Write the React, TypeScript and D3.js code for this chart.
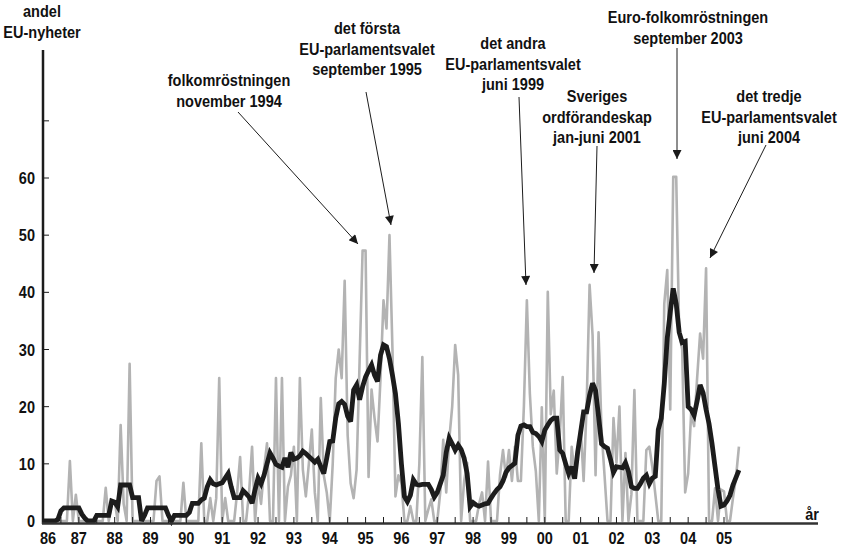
import React from "react";
import * as d3 from "d3";

// Monthly values, Jan 1986 (index 0) .. Jun 2005
const greyValues: number[] = [
  // 1986
  0, 0, 0, 0, 0, 0, 0, 0, 0, 10.5, 0, 4.6,
  // 1987
  0, 0, 0, 0, 0, 0, 0, 0, 0, 5.8, 0, 3,
  // 1988
  3.5, 0, 16.8, 3, 0, 27.5, 0, 0, 0, 0, 0, 0,
  // 1989
  0, 0, 7, 7.8, 0, 0, 0, 0, 0, 0, 0, 6.7,
  // 1990
  0, 0, 0, 0, 0, 13.6, 0, 0, 4, 0, 4, 25,
  // 1991
  0, 4, 0, 0, 0, 5, 11.2, 0, 0, 5, 13, 0,
  // 1992
  7, 3, 9, 13.6, 0, 0, 25, 0, 25, 0, 6, 8,
  // 1993
  13, 0, 25, 9, 4.3, 10, 16, 5, 0, 21.5, 8, 5,
  // 1994
  0, 10, 25, 30, 25, 42, 15, 6.6, 4, 9, 28, 47.3,
  // 1995
  47.3, 7.7, 23, 18, 13.9, 25, 38.6, 33.7, 50, 30, 4.3, 8,
  // 1996
  6.6, 0, 0, 2.6, 0, 0, 10, 28.7, 0, 2, 3.8, 0,
  // 1997
  0, 5, 14.2, 5, 14.2, 20, 30.8, 25.5, 0, 7, 10.2, 0,
  // 1998
  0, 0, 3, 5, 0, 10.4, 0, 0, 0, 8, 12.4, 7.7,
  // 1999
  12.4, 7, 13, 7, 7, 20, 38.6, 22.3, 13, 8.7, 0, 19.9,
  // 2000
  0, 40.1, 18.7, 22.8, 8.3, 14.8, 25.2, 0, 0, 13, 8.3, 12,
  // 2001
  16.5, 7, 20, 41.3, 32.5, 8, 33, 15.8, 8, 0, 0, 18,
  // 2002
  10.2, 20, 0, 11.9, 0, 4.7, 22.9, 0, 0, 0, 12.4, 13,
  // 2003
  9.5, 4.7, 0, 0, 38, 43.9, 19.5, 60.2, 60.2, 32.8, 30, 5,
  // 2004
  8.3, 18.9, 16.6, 25, 32.8, 28.4, 44.2, 0, 0, 5.7, 0, 5.5,
  // 2005
  5.2, 0, 0, 4, 7.6, 13,
];

const blackValues: number[] = [
  // 1986
  0, 0, 0, 0, 0, 0.3, 1.8, 2.3, 2.3, 2.3, 2.3, 2.3,
  // 1987
  2.3, 1.2, 0.5, 0, 0, 0, 1, 1, 1, 1, 1, 3.5,
  // 1988
  3.3, 2.5, 6.3, 6.3, 6.3, 6.3, 4.1, 4.1, 4.1, 0, 1, 2.3,
  // 1989
  2.3, 2.3, 2.3, 2.3, 2.3, 2.3, 1, 0, 1, 1, 1, 1,
  // 1990
  1, 1.5, 3.1, 3.1, 3.1, 3.7, 4, 6, 7.2, 6.5, 6.3, 6.5,
  // 1991
  6.7, 7.5, 8.3, 6, 4.1, 4.1, 4.1, 5.3, 4.8, 4.2, 3.1, 5.5,
  // 1992
  7.5, 6.5, 8, 10, 11.9, 11, 9.9, 9.6, 9.4, 11, 9.4, 12,
  // 1993
  10.8, 11, 11.4, 12.2, 11.8, 11.3, 10.8, 10.3, 10.8, 9.5, 8.3, 11,
  // 1994
  13.9, 14, 18, 20.5, 20.9, 20.4, 18.3, 17.4, 22.9, 23.8, 21.2, 23.5,
  // 1995
  25.2, 26.3, 27.3, 25.5, 24.4, 29, 30.8, 30.5, 28.4, 25.5, 22.3, 17,
  // 1996
  10, 4.3, 3.4, 4.5, 7.2, 6.4, 6.3, 6.4, 6.4, 6.4, 5.5, 4.2,
  // 1997
  5, 6.5, 8, 12, 14.5, 13.5, 12.4, 13.3, 12.5, 11, 8.3, 2.5,
  // 1998
  3.2, 2.8, 2.6, 2.8, 3, 3.1, 4, 4.8, 5.5, 6, 7, 8.5,
  // 1999
  9.3, 9.7, 10.1, 15, 16.6, 16.8, 16.5, 16.5, 15.5, 15.3, 14.8, 13.9,
  // 2000
  15.9, 16.8, 17.6, 18, 18, 12.4, 11.8, 10, 8.3, 9.5, 7.4, 12,
  // 2001
  15.5, 19.1, 19.1, 22, 24.1, 22.8, 18.3, 13.5, 13, 12.7, 10.8, 8.5,
  // 2002
  9.5, 9.4, 9.3, 10.2, 8.7, 6, 5.7, 5.7, 6.5, 7.5, 8, 6.5,
  // 2003
  7.5, 7.8, 16, 18, 24, 32, 36.5, 40.7, 38, 33, 31.2, 31.4,
  // 2004
  20, 19.5, 18.5, 21, 23.8, 22.4, 19.5, 17, 13.5, 9.5, 5.5, 2.6,
  // 2005
  2.8, 3.5, 4.5, 6.3, 7.6, 8.9,
];

const yearLabels = ["86", "87", "88", "89", "90", "91", "92", "93", "94", "95", "96", "97", "98", "99", "00", "01", "02", "03", "04", "05"];
const yTickValues = [0, 10, 20, 30, 40, 50, 60, 70];
const yTickLabels = ["0", "10", "20", "30", "40", "50", "60"];

type Note = { lines: string[]; cx: number; top: number; from: [number, number]; to: [number, number] };
const notes: Note[] = [
  { lines: ["folkomröstningen", "november 1994"], cx: 229, top: 86, from: [238, 112], to: [358, 244] },
  { lines: ["det första", "EU-parlamentsvalet", "september 1995"], cx: 367, top: 34, from: [366, 92], to: [391, 225] },
  { lines: ["det andra", "EU-parlamentsvalet", "juni 1999"], cx: 513, top: 49, from: [519, 97], to: [526, 285] },
  { lines: ["Sveriges", "ordförandeskap", "jan-juni 2001"], cx: 597, top: 102, from: [597, 146], to: [594, 273] },
  { lines: ["Euro-folkomröstningen", "september 2003"], cx: 688, top: 23, from: [677, 48], to: [677, 159] },
  { lines: ["det tredje", "EU-parlamentsvalet", "juni 2004"], cx: 769, top: 102, from: [766, 145], to: [710, 258] },
];

const FONT = "'Liberation Sans', Arial, sans-serif";
const SX = 0.88;

function T(props: { x: number; y: number; anchor?: string; children: React.ReactNode }) {
  return (
    <g transform={`translate(${props.x},${props.y}) scale(${SX},1)`}>
      <text x={0} y={0} textAnchor={props.anchor || "middle"} fontSize={16.5} fill="#111">{props.children}</text>
    </g>
  );
}

export default function App() {
  const W = 844, H = 546;
  const x = d3.scaleLinear().domain([0, 228]).range([43, 724]);
  const y = d3.scaleLinear().domain([0, 60]).range([521, 178]);

  const line = d3.line<number>().x((_, i) => x(i)).y((d) => y(d));
  const monthTicks = d3.range(6, 229, 6);

  return (
    <svg width={W} height={H} style={{ position: "absolute", left: 0, top: 0, background: "#fff" }} fontFamily={FONT} fontWeight="bold">
      <defs>
        <marker id="arr" viewBox="0 0 10 10" refX="10" refY="5" markerWidth="11" markerHeight="9" markerUnits="userSpaceOnUse" orient="auto">
          <path d="M0,0 L10,5 L0,10 z" fill="#1a1a1a" />
        </marker>
      </defs>
      <rect x={0} y={0} width={W} height={H} fill="#fff" />

      {/* grey monthly line */}
      <path d={line(greyValues) || ""} fill="none" stroke="#b3b3b3" strokeWidth={2.6} strokeLinejoin="round" />
      {/* black smoothed line */}
      <path d={line(blackValues) || ""} fill="none" stroke="#1c1c1c" strokeWidth={4.8} strokeLinejoin="miter" strokeMiterlimit={3} />

      {/* Y axis */}
      <line x1={43} x2={43} y1={50} y2={524} stroke="#1c1c1c" strokeWidth={2.5} />
      {yTickValues.map((v) => (
        <line key={"yt" + v} x1={43} x2={49} y1={y(v)} y2={y(v)} stroke="#1c1c1c" strokeWidth={1} />
      ))}
      {yTickLabels.map((t) => (
        <T key={"yl" + t} x={35} y={y(+t) + 6} anchor="end">{t}</T>
      ))}

      {/* X axis */}
      <line x1={42} x2={818} y1={523.5} y2={523.5} stroke="#333" strokeWidth={2.5} />
      {monthTicks.map((m) => (
        <line key={"xt" + m} x1={x(m)} x2={x(m)} y1={517} y2={523} stroke="#1c1c1c" strokeWidth={1} />
      ))}
      {yearLabels.map((t, i) => (
        <T key={"xl" + t} x={x(i * 12) + (i === 0 ? 5 : 0)} y={544}>{t}</T>
      ))}
      <T x={812} y={520}>år</T>

      {/* Y title */}
      <T x={42} y={17}>andel</T>
      <T x={42} y={38}>EU-nyheter</T>

      {/* annotations */}
      {notes.map((n, k) => (
        <g key={"n" + k}>
          {n.lines.map((l, j) => (
            <T key={j} x={n.cx} y={n.top + j * 20.5}>{l}</T>
          ))}
          <line x1={n.from[0]} y1={n.from[1]} x2={n.to[0]} y2={n.to[1]} stroke="#1c1c1c" strokeWidth={1} markerEnd="url(#arr)" />
        </g>
      ))}
    </svg>
  );
}
